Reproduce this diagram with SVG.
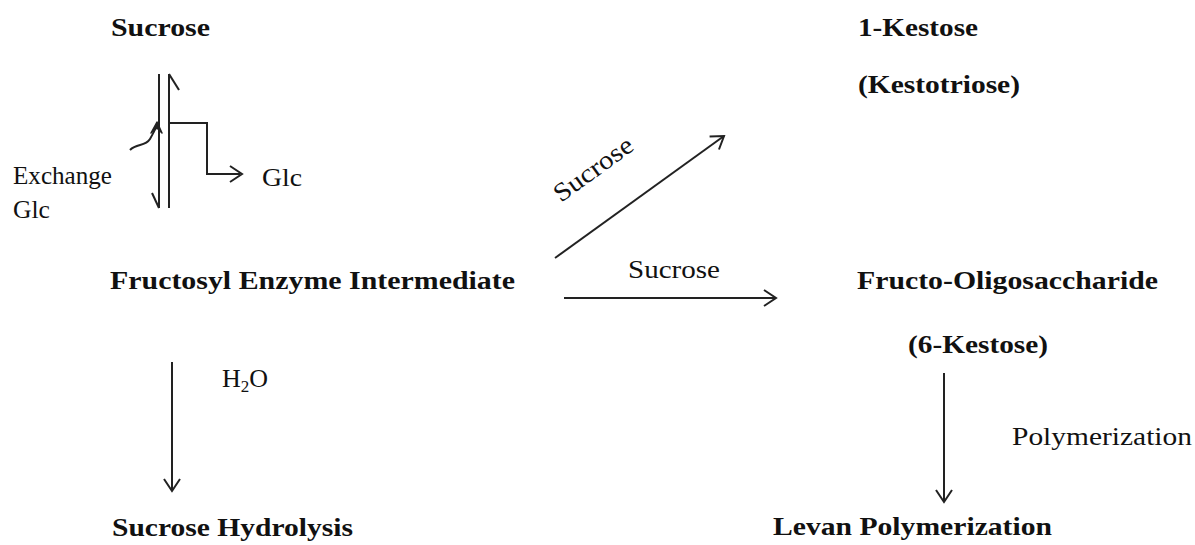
<svg xmlns="http://www.w3.org/2000/svg" width="1195" height="545" viewBox="0 0 1195 545">
<style>
.b{font-family:"Liberation Serif","Times New Roman",Times,"DejaVu Serif",serif;font-weight:bold;font-size:26px;fill:#111}
.r{font-family:"Liberation Serif","Times New Roman",Times,"DejaVu Serif",serif;font-size:26px;fill:#111}
.ln{stroke:#222;stroke-width:2;fill:none}
</style>
<defs>
<marker id="ah" markerUnits="userSpaceOnUse" markerWidth="16" markerHeight="20" refX="14" refY="9" orient="auto" viewBox="0 0 16 18">
<path d="M2,1 L14,9 L2,17" fill="none" stroke="#222" stroke-width="2"/>
</marker>
</defs>
<rect width="1195" height="545" fill="#fff"/>
<g id="n-sucrose"><text class="b" x="111" y="36" textLength="99" lengthAdjust="spacingAndGlyphs">Sucrose</text></g>
<g id="n-fei"><text class="b" x="110" y="289" textLength="405" lengthAdjust="spacingAndGlyphs">Fructosyl Enzyme Intermediate</text></g>
<g id="n-hydrolysis"><text class="b" x="112" y="536" textLength="241" lengthAdjust="spacingAndGlyphs">Sucrose Hydrolysis</text></g>
<g id="n-kestose"><text class="b" x="858" y="36" textLength="120" lengthAdjust="spacingAndGlyphs">1-Kestose</text><text class="b" x="858" y="93" textLength="162" lengthAdjust="spacingAndGlyphs">(Kestotriose)</text></g>
<g id="n-fos"><text class="b" x="857" y="289" textLength="301" lengthAdjust="spacingAndGlyphs">Fructo-Oligosaccharide</text><text class="b" x="908" y="353" textLength="140" lengthAdjust="spacingAndGlyphs">(6-Kestose)</text></g>
<g id="n-levan"><text class="b" x="773" y="535" textLength="279" lengthAdjust="spacingAndGlyphs">Levan Polymerization</text></g>
<g id="n-glc"><text class="r" x="262" y="186" textLength="40" lengthAdjust="spacingAndGlyphs">Glc</text></g>
<g id="connectors">
<line class="ln" x1="159" y1="74" x2="159" y2="208"/>
<line class="ln" x1="152" y1="193" x2="159" y2="208"/>
<line class="ln" x1="169" y1="74" x2="169" y2="208"/>
<line class="ln" x1="169" y1="74" x2="179" y2="90"/>
<path class="ln" d="M169,123 H207 V174 H240"/>
<path class="ln" d="M230,166 L242,174 L230,182"/>
<path class="ln" d="M130,150 C137,143 145,147 150,139 C153,134 155,130 157,125"/>
<path d="M151,133 L157,122 L162,133 L157,128 Z" fill="#222" stroke="#222" stroke-width="1.5" stroke-linejoin="round"/>
<line class="ln" x1="555" y1="258" x2="724" y2="136" marker-end="url(#ah)"/>
<line class="ln" x1="564" y1="298" x2="776" y2="298" marker-end="url(#ah)"/>
<line class="ln" x1="172" y1="362" x2="172" y2="491" marker-end="url(#ah)"/>
<line class="ln" x1="944" y1="373" x2="944" y2="502" marker-end="url(#ah)"/>
<text class="r" x="13" y="184" textLength="99" lengthAdjust="spacingAndGlyphs">Exchange</text>
<text class="r" x="13" y="218" textLength="37" lengthAdjust="spacingAndGlyphs">Glc</text>
<text class="r" x="0" y="0" textLength="92" lengthAdjust="spacingAndGlyphs" transform="translate(561,203) rotate(-36)">Sucrose</text>
<text class="r" x="628" y="278" textLength="92" lengthAdjust="spacingAndGlyphs">Sucrose</text>
<text class="r" x="222" y="387">H<tspan font-size="17" dy="5">2</tspan><tspan dy="-5">O</tspan></text>
<text class="r" x="1012" y="445" textLength="180" lengthAdjust="spacingAndGlyphs">Polymerization</text>
</g>
</svg>
